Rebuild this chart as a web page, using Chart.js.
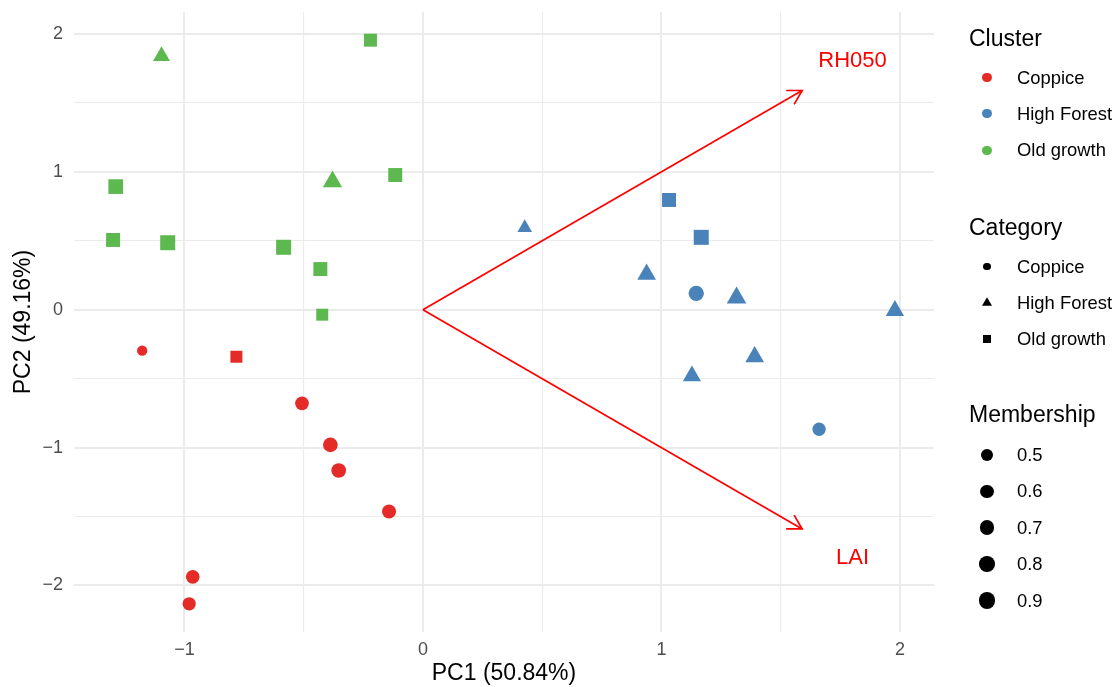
<!DOCTYPE html>
<html lang="en">
<head>
    <meta charset="UTF-8">
    <title>PCA biplot</title>
    <script src="https://cdn.jsdelivr.net/npm/chart.js@4.4.1/dist/chart.umd.min.js"></script>
    <style>
        body { margin: 0; background: #fff; font-family: 'Liberation Sans', Arial, sans-serif; }
        #wrap { position: relative; width: 1120px; height: 687px; }
        #legend div { position: absolute; white-space: nowrap; }
        .ttl { font-size: 23px; line-height: 28px; color: #000; }
        .lab { font-size: 18.4px; line-height: 22px; color: #000; }
        .tri { clip-path: polygon(50% 0, 100% 100%, 0 100%); }
    </style>
</head>
<body>
<div id="wrap">
    <canvas id="myChart" width="1120" height="687"></canvas>
    <div id="legend"></div>
</div>
<script>
    // scores
    const pc1 = [-1.177, -0.782, -0.507, -0.388, -0.353, -0.142, -0.965, -0.980,
                 -1.096, -0.220, -1.288, -0.379, -0.116, -1.299, -1.070, -0.584, -0.430, -0.422,
                 0.427, 1.032, 1.167, 0.938, 1.146, 1.315, 1.979, 1.391, 1.128, 1.661]
    const pc2 = [-0.297, -0.341, -0.679, -0.980, -1.166, -1.463, -1.937, -2.133,
                 1.840, 1.955, 0.893, 0.929, 0.977, 0.506, 0.486, 0.453, 0.295, -0.036,
                 0.595, 0.796, 0.525, 0.257, 0.119, 0.086, -0.007, -0.341, -0.480, -0.867]
    const cluster = ['Coppice', 'Coppice', 'Coppice', 'Coppice', 'Coppice', 'Coppice', 'Coppice', 'Coppice',
                     'Old growth', 'Old growth', 'Old growth', 'Old growth', 'Old growth', 'Old growth', 'Old growth', 'Old growth', 'Old growth', 'Old growth',
                     'High Forest', 'High Forest', 'High Forest', 'High Forest', 'High Forest', 'High Forest', 'High Forest', 'High Forest', 'High Forest', 'High Forest']
    const category = ['Coppice', 'Old growth', 'Coppice', 'Coppice', 'Coppice', 'Coppice', 'Coppice', 'Coppice',
                      'High Forest', 'Old growth', 'Old growth', 'High Forest', 'Old growth', 'Old growth', 'Old growth', 'Old growth', 'Old growth', 'Old growth',
                      'High Forest', 'Old growth', 'Old growth', 'High Forest', 'Coppice', 'High Forest', 'High Forest', 'High Forest', 'High Forest', 'Coppice']
    const membership = [0.26, 0.37, 0.60, 0.70, 0.70, 0.63, 0.60, 0.56,
                        0.49, 0.47, 0.63, 0.66, 0.56, 0.56, 0.66, 0.66, 0.56, 0.37,
                        0.32, 0.56, 0.66, 0.62, 0.76, 0.69, 0.59, 0.62, 0.58, 0.56]

    const clusterNames = ['Coppice', 'High Forest', 'Old growth']
    const categoryNames = ['Coppice', 'High Forest', 'Old growth']
    const membershipBreaks = [0.5, 0.6, 0.7, 0.8, 0.9]

    // variable loadings (arrows)
    const loadingNames = ['RH050', 'LAI']
    const loadingX = [1.59, 1.59]
    const loadingY = [1.59, -1.59]

    const xTicks = [-1, -0.5, 0, 0.5, 1, 1.5, 2]
    const yTicks = [-2, -1.5, -1, -0.5, 0, 0.5, 1, 1.5, 2]
    const xTitle = 'PC1 (50.84%)'
    const yTitle = 'PC2 (49.16%)'

    const colors = { 'Coppice': '#E52B28', 'High Forest': '#4A83B9', 'Old growth': '#5DB94F' }
    const shapes = { 'Coppice': 'circle', 'High Forest': 'triangle', 'Old growth': 'rect' }
    const font = "'Liberation Sans', Arial, sans-serif"

    // membership -> marker diameter in px
    function diam(m) { return 7.7 + 10 * m }
    function radiusFor(shape, m) {
        let d = diam(m)
        if (shape == 'rect') return 1.05 * d / Math.SQRT2
        if (shape == 'triangle') return 0.7775 * d
        return d / 2
    }

    // ggplot style 5% expansion of the data range
    function expand(v) {
        let lo = Math.min(...v), hi = Math.max(...v), pad = (hi - lo) * 0.05
        return [lo - pad, hi + pad]
    }
    const xr = expand(pc1)
    const yr = expand(pc2)

    let datasets = clusterNames.map(cl => {
        let idx = pc1.map((v, i) => i).filter(i => cluster[i] == cl)
        return {
            label: cl,
            data: idx.map(i => ({ x: pc1[i], y: pc2[i] })),
            pointStyle: idx.map(i => shapes[category[i]]),
            pointRadius: idx.map(i => radiusFor(shapes[category[i]], membership[i])),
            backgroundColor: colors[cl],
            borderWidth: 0,
            pointBorderWidth: 0,
            showLine: false
        }
    })
    loadingNames.forEach((n, i) => {
        datasets.push({
            label: n,
            data: [{ x: 0, y: 0 }, { x: loadingX[i], y: loadingY[i] }],
            showLine: true,
            borderColor: '#FF0000',
            borderWidth: 1.7,
            pointRadius: 0
        })
    })

    const fmt = v => (v < 0 ? '\u2212' + Math.abs(v) : String(v))

    const arrowHeads = {
        id: 'arrowHeads',
        afterDatasetsDraw(chart) {
            let { ctx, scales: { x, y } } = chart
            ctx.save()
            ctx.strokeStyle = '#FF0000'
            ctx.fillStyle = '#FF0000'
            ctx.lineWidth = 1.7
            loadingNames.forEach((n, i) => {
                let x0 = x.getPixelForValue(0), y0 = y.getPixelForValue(0)
                let x1 = x.getPixelForValue(loadingX[i]), y1 = y.getPixelForValue(loadingY[i])
                let a = Math.atan2(y1 - y0, x1 - x0), L = 16
                ctx.beginPath()
                ctx.moveTo(x1 - L * Math.cos(a - Math.PI / 6), y1 - L * Math.sin(a - Math.PI / 6))
                ctx.lineTo(x1, y1)
                ctx.lineTo(x1 - L * Math.cos(a + Math.PI / 6), y1 - L * Math.sin(a + Math.PI / 6))
                ctx.stroke()
                ctx.font = '22px ' + font
                ctx.textAlign = 'center'
                ctx.textBaseline = 'middle'
                ctx.fillText(n, x.getPixelForValue(loadingX[i] * 1.133), y.getPixelForValue(loadingY[i] * 1.133))
            })
            ctx.restore()
        }
    }

    function axis(ticks, range, title, isY) {
        return {
            type: 'linear',
            min: range[0],
            max: range[1],
            afterBuildTicks: s => { s.ticks = ticks.map(v => ({ value: v })) },
            afterFit: s => {
                if (isY) { s.width = 74; s.paddingTop = 0; s.paddingBottom = 0 }
                else { s.height = 55; s.paddingLeft = 0; s.paddingRight = 0 }
            },
            border: { display: false },
            grid: {
                color: '#EBEBEB',
                lineWidth: c => (Number.isInteger(c.tick.value) ? 2 : 1.1),
                drawTicks: false
            },
            ticks: {
                autoSkip: false,
                padding: isY ? 11 : 7,
                color: '#4D4D4D',
                font: { family: font, size: 18 },
                callback: v => (Number.isInteger(v) ? fmt(v) : '')
            },
            title: {
                display: true,
                text: title,
                color: '#000',
                font: { family: font, size: 23 },
                padding: isY ? { top: 10 } : { top: 0, bottom: 0 }
            }
        }
    }

    let ctx = document.getElementById('myChart').getContext('2d')
    let chart = new Chart(ctx, {
        type: 'scatter',
        data: { datasets: datasets },
        options: {
            responsive: false,
            animation: false,
            events: [],
            layout: { padding: { left: 0, right: 186, top: 12, bottom: 0 } },
            plugins: { legend: { display: false }, tooltip: { enabled: false } },
            scales: {
                x: axis(xTicks, xr, xTitle, false),
                y: axis(yTicks, yr, yTitle, true)
            }
        },
        plugins: [arrowHeads]
    })

    // legend on the right, built from the same arrays
    const legend = document.getElementById('legend')
    function add(cls, text, left, top, css) {
        let d = document.createElement('div')
        if (cls) d.className = cls
        if (text) d.textContent = text
        d.style.left = left + 'px'
        d.style.top = top + 'px'
        Object.assign(d.style, css || {})
        legend.appendChild(d)
    }
    function marker(shape, size, cx, cy) {
        if (shape == 'triangle') {
            let h = size * 0.866
            add('tri', '', cx - size / 2, cy - h * 2 / 3, { width: size + 'px', height: h + 'px', background: '#000' })
        } else {
            add('', '', cx - size / 2, cy - size / 2, {
                width: size + 'px', height: size + 'px', background: '#000',
                borderRadius: shape == 'circle' ? '50%' : '0'
            })
        }
    }
    const lx = 969, mx = 987, tx = 1017, step = 36.4

    add('ttl', 'Cluster', lx, 37.5 - 14)
    clusterNames.forEach((n, i) => {
        let cy = 77.5 + i * step
        add('', '', mx - 4.6, cy - 4.6, { width: '9.2px', height: '9.2px', borderRadius: '50%', background: colors[n] })
        add('lab', n, tx, cy - 11)
    })

    add('ttl', 'Category', lx, 226.5 - 14)
    categoryNames.forEach((n, i) => {
        let cy = 266.5 + i * step
        let s = shapes[n]
        marker(s, s == 'triangle' ? 10 : (s == 'rect' ? 8.2 : 7.6), mx, cy)
        add('lab', n, tx, cy - 11)
    })

    add('ttl', 'Membership', lx, 414 - 14)
    membershipBreaks.forEach((m, i) => {
        let cy = 455 + i * step
        marker('circle', diam(m), mx, cy)
        add('lab', m.toFixed(1), tx, cy - 11)
    })
</script>
</body>
</html>
